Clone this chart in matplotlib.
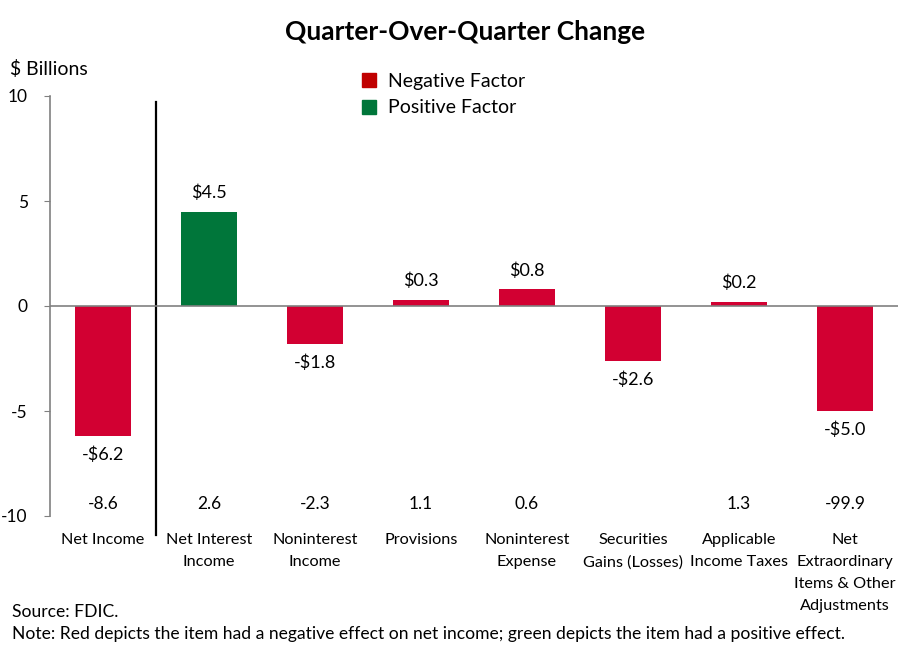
import matplotlib.pyplot as plt
from matplotlib.patches import Patch

categories = ["Net Income", "Net Interest\nIncome", "Noninterest\nIncome", "Provisions",
              "Noninterest\nExpense", "Securities\nGains (Losses)", "Applicable\nIncome Taxes",
              "Net\nExtraordinary\nItems & Other\nAdjustments"]
changes = [-6.2, 4.5, -1.8, 0.3, 0.8, -2.6, 0.2, -5.0]
factor = ["neg", "pos", "neg", "neg", "neg", "neg", "neg", "neg"]
pct_changes = ["-8.6", "2.6", "-2.3", "1.1", "0.6", "", "1.3", "-99.9"]

red = "#D20032"
green = "#00763A"

plt.rcParams['font.family'] = ['Lato', 'DejaVu Sans']

fig = plt.figure(figsize=(9.06, 6.56), dpi=100)
ax = fig.add_axes([50/906, 1 - 516/656, 848/906, 420/656])

x = list(range(len(categories)))
colors = [green if f == "pos" else red for f in factor]
ax.bar(x, changes, width=0.52, color=colors, zorder=2)

# etiquetas de valor
for i, v in enumerate(changes):
    txt = ("-$%.1f" % abs(v)) if v < 0 else ("$%.1f" % v)
    if v >= 0:
        ax.text(i, v + 0.5, txt, ha="center", va="bottom", fontsize=13)
    else:
        ax.text(i, v - 0.5, txt, ha="center", va="top", fontsize=13)

# fila de cambios porcentuales
for i, p in enumerate(pct_changes):
    ax.text(i, -9.45, p, ha="center", va="center", fontsize=12.5)

ax.axhline(0, color="#808080", lw=1.2, zorder=3)
ax.plot([0.5, 0.5], [9.7, -10.9], color="black", lw=1.6, clip_on=False)

ax.set_xlim(-0.5, 7.5)
ax.set_ylim(-10, 10)
ax.set_yticks([-10, -5, 0, 5, 10])
ax.set_yticklabels(["-10", "-5", "0", "5", "10"])
ax.tick_params(axis="y", labelsize=12.5, length=4, color="#808080", pad=12)
ax.set_xticks([])
for s in ["top", "right", "bottom"]:
    ax.spines[s].set_visible(False)
ax.spines["left"].set_color("#808080")
ax.spines["left"].set_linewidth(1.2)

for i, c in enumerate(categories):
    ax.text(i, -10.8, c, ha="center", va="top", fontsize=11.7, linespacing=1.72, clip_on=False)

fig.text(465/906, 1 - 32/656, "Quarter-Over-Quarter Change", ha="center", va="center",
         fontsize=19, fontweight="bold")
fig.text(10/906, 1 - 69/656, "$ Billions", ha="left", va="center", fontsize=14)

handles = [Patch(color="#C00000", label="Negative Factor"),
           Patch(color=green, label="Positive Factor")]
fig.legend(handles=handles, loc="upper left", bbox_to_anchor=(352/906, 1 - 63/656),
           frameon=False, fontsize=14, handlelength=0.75, handleheight=0.75,
           handletextpad=0.6, labelspacing=0.5, borderpad=0)

fig.text(12/906, 1 - 612/656, "Source: FDIC.", ha="left", va="center", fontsize=12.6)
fig.text(12/906, 1 - 634/656,
         "Note: Red depicts the item had a negative effect on net income; green depicts the item had a positive effect.",
         ha="left", va="center", fontsize=12.6)

fig.savefig("out.png", dpi=100)
